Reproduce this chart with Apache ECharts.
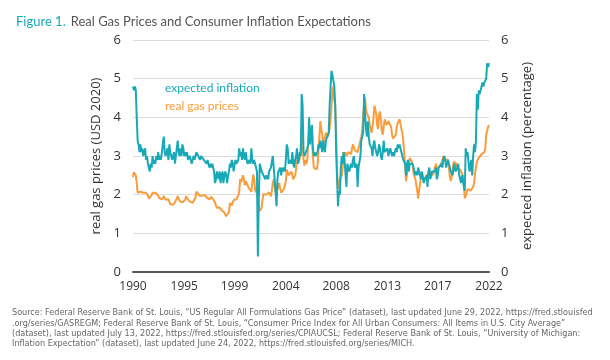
<!DOCTYPE html>
<html>
<head>
<meta charset="utf-8">
<script src="https://cdn.jsdelivr.net/npm/echarts@6/dist/echarts.min.js"></script>
<style>html,body{margin:0;padding:0;background:#fff;}#c{width:610px;height:360px;}</style>
</head>
<body>
<div id="c"></div>
<script>
// Monthly data, Aug 1990 – Jun 2022
const startYear = 1990, startMonth = 8;
const tickLabels = ['1990','1995','1999','2004','2008','2013','2017','2022'];
const tickIndex = [0,55,109,164,218,273,327,382];

const expectedInflation = [
 4.8,4.7,4.8,4.7,4.0,
 3.4,3.3,3.1,3.3,3.1,3.2,3.0,3.1,3.2,2.9,3.0,2.8,
 2.7,2.6,2.8,2.7,3.0,2.8,2.9,2.8,3.0,2.9,3.1,2.9,
 3.0,2.9,3.1,3.3,3.5,3.1,3.0,3.1,3.2,2.9,3.3,3.1,
 3.0,2.9,3.0,3.1,2.8,3.0,3.2,3.4,3.1,3.0,3.2,3.0,
 3.3,3.2,3.0,3.1,3.0,3.1,2.9,2.9,3.0,2.9,2.8,2.9,
 3.0,2.9,3.0,3.1,3.1,3.0,3.0,2.9,3.0,3.0,3.0,2.9,
 2.9,2.9,2.8,2.9,2.8,2.7,2.8,2.7,2.8,2.7,2.6,2.3,
 2.4,2.6,2.5,2.4,2.6,2.3,2.5,2.6,2.3,2.5,2.6,2.5,
 2.3,2.5,2.6,2.8,2.7,2.9,2.8,2.6,2.8,2.9,2.8,2.8,
 2.9,3.2,3.0,3.1,2.9,3.2,3.0,2.9,3.1,2.9,2.8,2.8,
 2.9,2.8,3.2,2.9,2.8,2.9,2.8,2.8,2.6,0.4,1.9,2.8,
 2.7,2.6,2.6,2.5,2.5,2.4,2.5,2.5,2.4,2.6,2.6,2.7,
 2.7,3.0,3.0,2.4,2.1,1.7,2.4,2.6,2.6,2.7,2.5,2.7,
 2.6,2.7,2.6,2.9,3.3,3.2,2.8,2.8,2.9,2.8,3.1,2.8,
 2.7,2.9,3.0,3.2,2.8,2.9,3.1,3.0,4.6,4.3,3.1,3.0,
 3.0,3.0,3.2,3.3,4.0,3.3,3.3,3.8,3.2,3.0,3.1,3.0,
 3.0,3.1,3.3,3.2,3.4,3.3,3.1,3.4,3.2,3.1,3.4,3.4,
 3.4,3.6,4.3,4.8,5.2,5.1,5.1,4.8,4.3,3.1,2.4,1.7,
 2.1,2.0,2.7,3.0,2.8,3.1,2.9,2.9,2.2,2.8,2.8,2.6,
 2.7,2.8,2.7,2.9,3.0,2.7,2.7,2.8,2.2,2.7,2.7,3.0,
 3.4,3.4,3.6,4.6,4.1,3.7,3.5,3.9,3.5,3.3,3.3,3.2,
 3.0,3.3,3.4,3.2,3.1,3.0,3.1,3.3,3.2,3.0,2.9,3.1,
 3.4,3.1,3.1,3.1,3.2,3.0,3.0,3.2,3.2,3.0,3.1,3.0,
 3.1,3.2,3.1,3.3,3.2,3.3,3.2,3.2,3.0,2.9,2.9,2.8,
 2.5,2.8,2.9,2.6,2.8,2.8,2.8,2.8,2.7,2.7,2.5,2.6,
 2.5,2.7,2.7,2.5,2.4,2.6,2.6,2.3,2.4,2.4,2.5,2.2,
 2.6,2.7,2.4,2.5,2.6,2.6,2.6,2.6,2.7,2.4,2.5,2.7,
 2.7,2.7,2.8,2.7,2.9,3.0,2.9,2.7,2.8,2.9,2.8,2.7,
 2.6,2.6,2.5,2.7,2.8,2.6,2.6,2.7,2.8,2.5,2.5,2.3,
 2.5,2.4,2.2,2.1,3.2,3.0,3.1,3.1,2.6,2.6,2.9,2.5,
 3.0,3.3,3.1,3.4,4.6,4.2,4.7,4.6,4.6,4.8,4.9,4.8,
 4.9,4.9,5.0,5.4,5.3,5.4
];

const realGasPrices = [
 2.45,2.58,2.62,2.5,2.3,
 2.05,2.0,2.0,2.08,2.12,2.1,2.05,2.1,2.08,2.05,2.05,1.98,
 1.9,1.88,1.93,1.98,2.05,2.1,2.08,2.05,2.02,2.0,1.98,1.92,
 1.9,1.9,1.88,1.93,1.96,1.92,1.87,1.84,1.82,1.88,1.82,1.75,
 1.73,1.74,1.74,1.77,1.8,1.85,1.9,1.96,1.9,1.84,1.85,1.82,
 1.8,1.78,1.78,1.86,1.96,1.96,1.88,1.84,1.82,1.8,1.77,1.79,
 1.83,1.84,1.92,2.08,2.12,2.04,1.98,1.94,1.94,1.97,2.0,1.99,
 1.99,1.98,1.93,1.92,1.91,1.88,1.85,1.94,1.93,1.88,1.85,1.8,
 1.72,1.66,1.62,1.64,1.67,1.64,1.6,1.56,1.55,1.54,1.5,1.44,
 1.43,1.42,1.55,1.78,1.76,1.72,1.8,1.86,1.9,1.87,1.88,1.93,
 1.98,2.08,2.4,2.32,2.3,2.5,2.42,2.25,2.35,2.32,2.3,2.18,
 2.16,2.16,2.08,2.32,2.52,2.42,2.12,2.06,2.2,1.88,1.7,1.58,
 1.62,1.66,1.88,2.02,2.02,1.98,2.0,2.0,1.98,2.06,2.02,1.96,
 2.1,2.3,2.4,2.2,2.05,2.0,2.05,2.2,2.3,2.15,2.05,2.0,
 2.05,2.15,2.25,2.35,2.65,2.6,2.5,2.45,2.45,2.6,2.55,2.4,
 2.4,2.5,2.65,2.9,2.8,2.75,2.95,3.15,3.75,3.4,2.9,2.75,
 2.9,2.8,2.9,3.35,3.55,3.5,3.6,3.55,3.0,2.7,2.7,2.75,
 2.65,2.75,3.1,3.5,3.9,3.7,3.55,3.3,3.3,3.3,3.6,3.55,
 3.5,3.45,3.7,3.95,4.3,4.7,4.8,4.45,4.3,3.6,2.6,2.15,
 2.25,2.4,2.4,2.5,2.7,3.1,3.0,3.1,3.0,2.95,3.1,3.05,
 3.15,3.05,3.2,3.3,3.3,3.15,3.15,3.15,3.1,3.2,3.3,3.4,
 3.5,3.7,4.05,4.35,4.5,4.2,4.1,4.05,4.0,3.8,3.7,3.6,
 3.65,3.95,4.3,4.35,4.1,3.8,3.7,4.05,4.15,3.95,3.65,3.55,
 3.55,3.95,3.9,3.8,3.85,3.9,3.85,3.85,3.75,3.55,3.45,3.5,
 3.5,3.55,3.75,3.85,3.9,3.95,3.9,3.7,3.6,3.4,3.1,2.75,
 2.35,2.4,2.7,2.7,2.95,3.0,2.95,2.8,2.55,2.5,2.4,2.25,
 2.1,1.9,2.1,2.3,2.45,2.55,2.45,2.35,2.4,2.45,2.4,2.45,
 2.55,2.5,2.5,2.6,2.55,2.5,2.45,2.55,2.8,2.6,2.7,2.65,
 2.75,2.75,2.75,2.9,3.0,2.95,2.9,2.9,2.9,2.9,2.7,2.45,
 2.35,2.4,2.6,2.85,2.9,2.8,2.8,2.65,2.65,2.7,2.65,2.6,
 2.65,2.5,2.3,1.9,1.85,2.05,2.15,2.15,2.15,2.1,2.1,2.15,
 2.2,2.3,2.55,2.7,2.85,2.9,2.95,3.0,3.0,3.05,3.1,3.05,
 3.1,3.2,3.55,3.5,3.75,3.8
];

const months = [];
for (let i = 0; i < realGasPrices.length; i++) {
  const m = startMonth - 1 + i;
  const y = startYear + Math.floor(m / 12);
  months.push(y + '-' + String(m % 12 + 1).padStart(2, '0'));
}

const TEAL = '#17a9b6', ORANGE = '#f99d3c';
const chart = echarts.init(document.getElementById('c'), null, {renderer: 'canvas'});
const axisFont = {color: '#333', fontSize: 13, fontFamily: 'Open Sans'};
chart.setOption({
  animation: false,
  backgroundColor: '#fff',
  title: {
    text: '{a|Figure 1.} {b|Real Gas Prices and Consumer Inflation Expectations}',
    left: 11, top: 8,
    textStyle: {fontWeight: 'normal', rich: {
      a: {color: TEAL, fontSize: 13, fontFamily: 'Lato', fontWeight: 'normal'},
      b: {color: '#555', fontSize: 13, fontFamily: 'Lato', fontWeight: 'normal'}
    }}
  },
  grid: {left: 133, right: 121, top: 40, bottom: 88},
  xAxis: {
    type: 'category', data: months, boundaryGap: false,
    axisLine: {lineStyle: {color: '#555', width: 2}},
    axisTick: {show: false},
    axisLabel: {
      ...axisFont, fontSize: 12, margin: 9,
      interval: (i) => tickIndex.indexOf(i) >= 0,
      formatter: (v, i) => { const k = tickIndex.indexOf(i); return k >= 0 ? tickLabels[k] : ''; }
    },
    splitLine: {show: false}
  },
  yAxis: [
    {type: 'value', min: 0, max: 6, interval: 1, position: 'left',
     name: 'real gas prices (USD 2020)', nameLocation: 'middle', nameGap: 28, nameRotate: 90,
     nameTextStyle: {...axisFont, fontSize: 13},
     axisLine: {show: false}, axisTick: {show: false},
     axisLabel: {...axisFont, margin: 12},
     splitLine: {lineStyle: {color: '#dcdcdc', width: 1}}},
    {type: 'value', min: 0, max: 6, interval: 1, position: 'right',
     name: 'expected inflation (percentage)', nameLocation: 'middle', nameGap: 32, nameRotate: 90,
     nameTextStyle: {...axisFont, fontSize: 13},
     axisLine: {show: false}, axisTick: {show: false},
     axisLabel: {...axisFont, margin: 12},
     splitLine: {show: false}}
  ],
  graphic: [
    {type: 'text', left: 165, top: 82, style: {text: 'expected inflation', fill: TEAL, font: '12px Lato'}},
    {type: 'text', left: 165, top: 100, style: {text: 'real gas prices', fill: ORANGE, font: '12px Lato'}},
    {type: 'text', left: 12, top: 308, style: {
      text: 'Source: Federal Reserve Bank of St. Louis, \u201cUS Regular All Formulations Gas Price\u201d (dataset), last updated June 29, 2022, https://fred.stlouisfed\n.org/series/GASREGM; Federal Reserve Bank of St. Louis, \u201cConsumer Price Index for All Urban Consumers: All Items in U.S. City Average\u201d\n(dataset), last updated July 13, 2022, https://fred.stlouisfed.org/series/CPIAUCSL; Federal Reserve Bank of St. Louis, \u201cUniversity of Michigan:\nInflation Expectation\u201d (dataset), last updated June 24, 2022, https://fred.stlouisfed.org/series/MICH.',
      fill: '#666', font: '9px "Liberation Sans Narrow", "DejaVu Sans Condensed", sans-serif', lineHeight: 10.3}}
  ],
  series: [
    {name: 'real gas prices', type: 'line', yAxisIndex: 0, data: realGasPrices,
     showSymbol: false, lineStyle: {color: ORANGE, width: 2}, itemStyle: {color: ORANGE}},
    {name: 'expected inflation', type: 'line', yAxisIndex: 1, data: expectedInflation,
     showSymbol: false, lineStyle: {color: TEAL, width: 2}, itemStyle: {color: TEAL}}
  ]
});
</script>
</body>
</html>
